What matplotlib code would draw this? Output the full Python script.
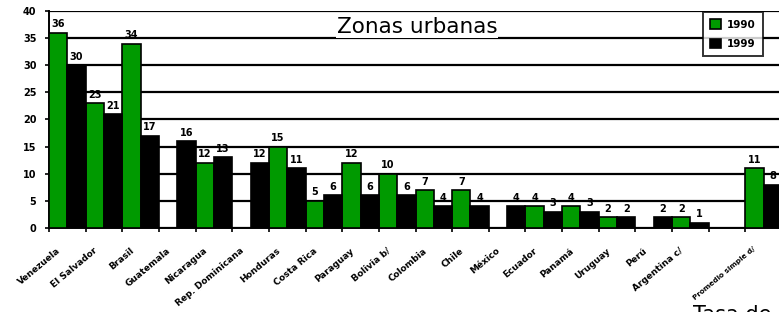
import matplotlib.pyplot as plt
import numpy as np

# data (nan = no bar)
countries = ["Venezuela", "El Salvador", "Brasil", "Guatemala", "Nicaragua",
             "Rep. Dominicana", "Honduras", "Costa Rica", "Paraguay", "Bolivia b/",
             "Colombia", "Chile", "México", "Ecuador", "Panamá", "Uruguay",
             "Perú", "Argentina c/", "", "Promedio simple d/"]
nan = np.nan
v1990 = [36, 23, 34, nan, 12, nan, 15, 5, 12, 10, 7, 7, nan, 4, 4, 2, nan, 2, nan, 11]
v1999 = [30, 21, 17, 16, 13, 12, 11, 6, 6, 6, 4, 4, 4, 3, 3, 2, 2, 1, nan, 8]
years = ["1990", "1999"]
yticks = [0, 5, 10, 15, 20, 25, 30, 35, 40]

green = "#009a00"

fig = plt.figure(figsize=(7.79, 3.12), dpi=100)
# axes runs a little past the right edge, like the cropped original
ax = fig.add_axes([49 / 779, 1 - 228 / 312, (782 - 49) / 779, 217 / 312])

x = np.arange(len(countries))
w = 0.5
b1 = ax.bar(x - w / 2, v1990, w, color=green, edgecolor="black", linewidth=1.2,
            label=years[0], zorder=3)
b2 = ax.bar(x + w / 2, v1999, w, color="black", edgecolor="black", linewidth=1.2,
            label=years[1], zorder=3)

# value labels
for bars, vals in [(b1, v1990), (b2, v1999)]:
    for rect, v in zip(bars, vals):
        if np.isnan(v):
            continue
        ax.annotate(str(int(v)), (rect.get_x() + rect.get_width() / 2, v),
                    xytext=(0, 2.5), textcoords="offset points", ha="center",
                    va="bottom", fontsize=7, fontweight="bold", zorder=4)

ax.set_xlim(-0.5, len(countries) - 0.5)
ax.set_ylim(0, 40)
ax.set_yticks(yticks)
ax.yaxis.grid(True, color="black", linewidth=1.6, zorder=0)
ax.set_axisbelow(True)
ax.tick_params(axis="y", labelsize=7, length=3, width=1.2, pad=6)
for t in ax.get_yticklabels():
    t.set_fontweight("bold")

# category labels slightly left of centre, boundary ticks as minor
ax.set_xticks(x - 0.3)
ax.set_xticklabels(countries, rotation=40, ha="right", va="top",
                   rotation_mode="anchor", fontsize=6.5, fontweight="bold")
ax.get_xticklabels()[-1].set_fontsize(5.2)
ax.tick_params(axis="x", which="major", length=0, pad=13)
ax.set_xticks(np.arange(len(countries)) - 0.5, minor=True)
ax.tick_params(axis="x", which="minor", length=3, width=1.2, direction="out")

for s in ["top", "right"]:
    ax.spines[s].set_visible(False)
ax.spines["left"].set_linewidth(1.4)
ax.spines["bottom"].set_linewidth(1.4)

ax.text(0.502, 0.925, "Zonas urbanas", transform=ax.transAxes, ha="center",
        va="center", fontsize=15.5, zorder=5,
        bbox=dict(facecolor="white", edgecolor="none", pad=0.5))

leg = fig.legend(loc="upper left", bbox_to_anchor=(703 / 779, 1 - 12 / 312),
                 fontsize=7.5, frameon=True, fancybox=False, edgecolor="black",
                 handlelength=1.0, handleheight=1.0, handletextpad=0.6,
                 borderpad=0.7, labelspacing=0.9, borderaxespad=0)
leg.get_frame().set_linewidth(1.4)
for t in leg.get_texts():
    t.set_fontweight("bold")

# start of the next chart's title, cut off by the crop
fig.text(693 / 779, -0.028, "Tasa de desempleo", fontsize=15, ha="left",
         va="baseline")

fig.savefig("out.png", dpi=100)
